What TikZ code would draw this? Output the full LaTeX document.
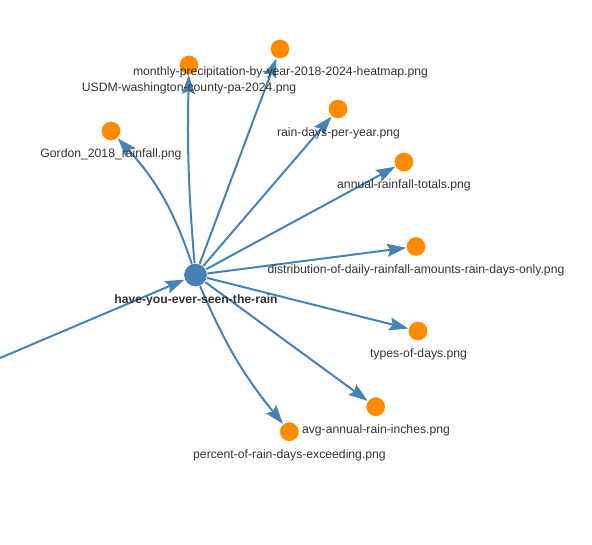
\documentclass[tikz,border=0pt]{standalone}
\usepackage{fontspec}
\setmainfont{Liberation Sans}
\usetikzlibrary{arrows.meta}
\definecolor{hubblue}{HTML}{4682B4}
\definecolor{leaforange}{HTML}{FF8C00}
\definecolor{txtgray}{HTML}{333333}
\tikzset{
  leaf/.style={circle,fill=leaforange,draw=white,line width=1pt,minimum size=20pt,inner sep=0pt,outer sep=0pt},
  hub/.style={circle,fill=hubblue,draw=white,line width=1pt,minimum size=24pt,inner sep=0pt,outer sep=0pt},
  lbl/.style={anchor=base,text=txtgray,inner sep=0pt,font=\fontsize{12.2}{14}\selectfont},
  tipstyle/.tip={Stealth[length=19pt,width=13pt,inset=3pt]},
  link/.style={draw=hubblue,line width=2pt,-tipstyle}
}
\begin{document}
\begin{tikzpicture}[x=1pt,y=-1pt]
\useasboundingbox (0,0) rectangle (592,544);

\node[hub] (hub) at (195.5,275) {};
\node[leaf] (usdm) at (189,65) {};
\node[leaf] (monthly) at (280,49) {};
\node[leaf] (raindays) at (338,109) {};
\node[leaf] (annual) at (404,162) {};
\node[leaf] (distrib) at (416,246.5) {};
\node[leaf] (types) at (418,331) {};
\node[leaf] (avg) at (375.7,406.7) {};
\node[leaf] (percent) at (289.3,431.7) {};
\node[leaf] (gordon) at (111,131) {};
\coordinate (src) at (0,358);

\draw[link] (src) -- (hub);
\draw[link] (hub) to[bend left=3] (usdm);
\draw[link] (hub) -- (monthly);
\draw[link] (hub) -- (raindays);
\draw[link] (hub) -- (annual);
\draw[link] (hub) -- (distrib);
\draw[link] (hub) -- (types);
\draw[link] (hub) -- (avg);
\draw[link] (hub) to[bend right=8] (percent);
\draw[link] (hub) to[bend right=12] (gordon);

\node[lbl] (lmonthly) at (280.5,75) {monthly-precipitation-by-year-2018-2024-heatmap.png};
\node[lbl] (lusdm) at (189,91) {USDM-washington-county-pa-2024.png};
\node[lbl] (lraindays) at (338.5,136) {rain-days-per-year.png};
\node[lbl] (lannual) at (404,188) {annual-rainfall-totals.png};
\node[lbl] (ldistrib) at (416,273) {distribution-of-daily-rainfall-amounts-rain-days-only.png};
\node[lbl] (ltypes) at (418.5,357) {types-of-days.png};
\node[lbl] (lavg) at (376,433) {avg-annual-rain-inches.png};
\node[lbl] (lpercent) at (289.5,458) {percent-of-rain-days-exceeding.png};
\node[lbl] (lgordon) at (111,157) {Gordon\_2018\_rainfall.png};
\node[lbl,font=\fontsize{12.2}{14}\selectfont\bfseries] (lhub) at (196,303) {have-you-ever-seen-the-rain};
\end{tikzpicture}
\end{document}
